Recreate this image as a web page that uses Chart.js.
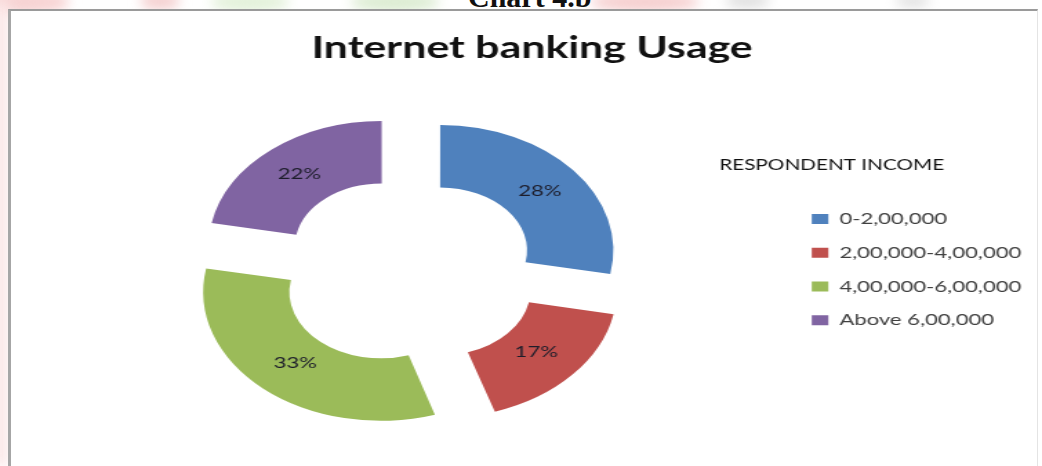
<!DOCTYPE html>
<html>
<head>
<meta charset="utf-8">
<script src="https://cdn.jsdelivr.net/npm/chart.js@4/dist/chart.umd.min.js"></script>
<style>
  html, body { margin: 0; padding: 0; background: #fff; }
  body { width: 1042px; height: 466px; position: relative; overflow: hidden; }
  .tint { position: absolute; border-radius: 50%; filter: blur(6px); }
  #caption {
    position: absolute; left: 468px; top: -18px;
    font: bold 30px "Liberation Serif", serif; line-height: 30px; color: #111;
    white-space: nowrap;
  }
  #frame {
    position: absolute; left: 8px; top: 9px; width: 1026px; height: 470px;
    background: #fff;
    border-left: 3px solid #a6a6a6; border-top: 2px solid #9a9a9a; border-right: 1px solid #e4e4e4;
  }
  #chart { position: absolute; left: 0; top: 0; }
</style>
</head>
<body>
<div class="tint" style="left:-20px;top:-10px;width:90px;height:24px;background:#f7d3d3;"></div>
<div class="tint" style="left:-6px;top:0;width:14px;height:466px;background:#fbe6e6;border-radius:0;"></div>
<div class="tint" style="left:140px;top:-8px;width:40px;height:18px;background:#f4d0d0;"></div>
<div class="tint" style="left:210px;top:-8px;width:80px;height:20px;background:#e3f1da;"></div>
<div class="tint" style="left:350px;top:-8px;width:90px;height:20px;background:#dcecd2;"></div>
<div class="tint" style="left:590px;top:-8px;width:110px;height:20px;background:#f6cfcf;"></div>
<div class="tint" style="left:725px;top:-6px;width:45px;height:14px;background:#dedede;"></div>
<div class="tint" style="left:895px;top:-6px;width:35px;height:14px;background:#e2e2e2;"></div>
<div id="caption">Chart 4.b</div>
<div id="frame"></div>
<!-- drawn at 755 px wide and shown 1042 px wide, so the ring comes out as a wide ellipse -->
<canvas id="chart" width="755" height="466" style="width:1042px;height:466px;"></canvas>
<script>
// Respondent income groups and their share of internet banking usage (%)
const incomeGroups = ['0-2,00,000', '2,00,000-4,00,000', '4,00,000-6,00,000', 'Above 6,00,000'];
const usageShare = [28, 17, 33, 22];
const groupColors = ['#4F81BD', '#C0504D', '#9BBB59', '#8064A2'];
const chartTitle = 'Internet banking Usage';
const legendHeading = 'RESPONDENT INCOME';

const FONT = 'Lato, "Open Sans", sans-serif';

// Writes the percentage inside each exploded ring segment, halfway across the ring
const segmentLabels = {
  id: 'segmentLabels',
  afterDatasetsDraw(chart) {
    const ctx = chart.ctx;
    const meta = chart.getDatasetMeta(0);
    ctx.save();
    ctx.font = '16px ' + FONT;
    ctx.fillStyle = '#1d1d2b';
    ctx.textAlign = 'center';
    ctx.textBaseline = 'middle';
    meta.data.forEach((arc, i) => {
      const p = arc.getProps(['x', 'y', 'startAngle', 'endAngle', 'innerRadius', 'outerRadius']);
      const mid = (p.startAngle + p.endAngle) / 2;
      const shift = (arc.options.offset || 0) / 4;
      const r = shift + (p.innerRadius + p.outerRadius) / 2;
      ctx.fillText(usageShare[i] + '%', p.x + Math.cos(mid) * r, p.y + Math.sin(mid) * r);
    });
    ctx.restore();
  }
};

// Heading above the legend entries
const legendCaption = {
  id: 'legendCaption',
  afterDraw(chart) {
    const boxes = chart.legend && chart.legend.legendHitBoxes;
    if (!boxes || !boxes.length) return;
    const ctx = chart.ctx;
    ctx.save();
    ctx.font = '15px ' + FONT;
    ctx.fillStyle = '#111';
    ctx.textAlign = 'left';
    ctx.textBaseline = 'middle';
    ctx.fillText(legendHeading, boxes[0].left - 67, boxes[0].top - 46);
    ctx.restore();
  }
};

new Chart(document.getElementById('chart'), {
  type: 'doughnut',
  data: {
    labels: incomeGroups,
    datasets: [{
      data: usageShare,
      backgroundColor: groupColors,
      borderWidth: 0,
      offset: 120
    }]
  },
  options: {
    responsive: false,
    animation: false,
    radius: 125,
    cutout: '50%',
    layout: { padding: { left: 21, right: 5, top: 0, bottom: 0 } },
    plugins: {
      tooltip: { enabled: false },
      title: {
        display: true,
        text: chartTitle,
        color: '#111',
        font: { family: FONT, size: 31, weight: 'bold' },
        padding: { top: 29, bottom: 7 }
      },
      legend: {
        position: 'right',
        align: 'center',
        fullSize: false,
        labels: {
          boxWidth: 12,
          boxHeight: 10,
          padding: 17.7,
          color: '#404040',
          font: { family: FONT, size: 16 }
        }
      }
    }
  },
  plugins: [segmentLabels, legendCaption]
});
</script>
</body>
</html>
